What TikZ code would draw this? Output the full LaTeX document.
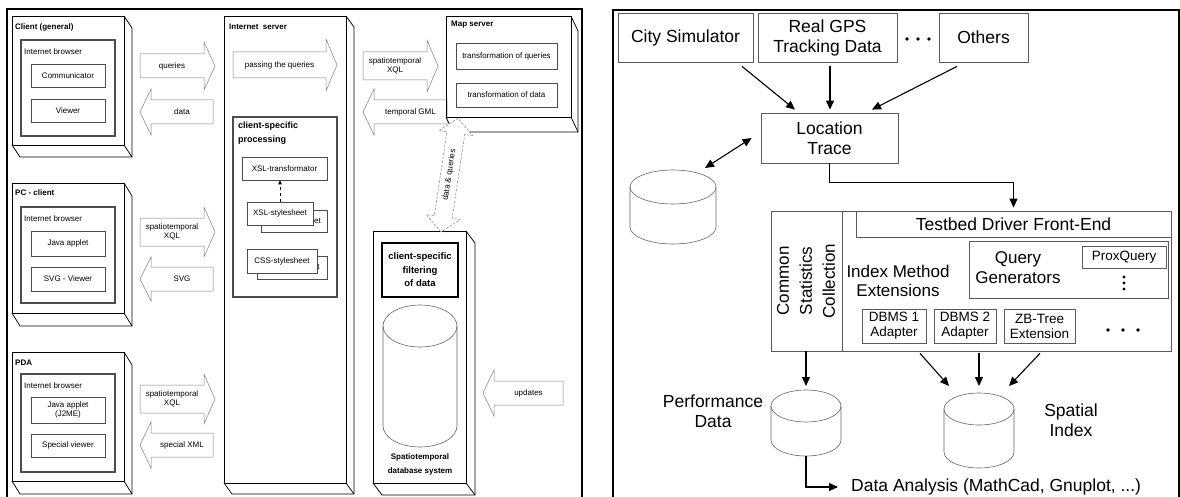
\documentclass[tikz,border=0pt]{standalone}
\usepackage{fontspec}
\setmainfont{Liberation Sans}
\usetikzlibrary{arrows.meta,calc}

% front face x1 y1 x2 y2, depth dx dy
\newcommand\boxthreed[6]{%
  \draw[tdbox] (#1,#2) rectangle (#3,#4);
  \draw[tdbox] (#3,#2) -- ({#3+#5},{#2+#6}) -- ({#3+#5},{#4+#6}) -- ({#1+#5},{#4+#6}) -- (#1,#4);
  \draw[tdbox] (#3,#4) -- ({#3+#5},{#4+#6});}
% block arrow pointing right: name, tail x, tip x, centre y, half shaft, half head, label
\newcommand\blkright[7]{%
  \draw[blk] (#2,{#4-#5}) -- ({#3-11},{#4-#5}) -- ({#3-11},{#4-#6}) -- (#3,#4) -- ({#3-11},{#4+#6}) -- ({#3-11},{#4+#5}) -- (#2,{#4+#5}) -- cycle;
  \node[sm,align=center] (#1) at ({(#2+#3-11)/2},#4) {#7};}
% block arrow pointing left: name, tip x, tail x, centre y, half shaft, half head, label
\newcommand\blkleft[7]{%
  \draw[blk] (#3,{#4-#5}) -- ({#2+11},{#4-#5}) -- ({#2+11},{#4-#6}) -- (#2,#4) -- ({#2+11},{#4+#6}) -- ({#2+11},{#4+#5}) -- (#3,{#4+#5}) -- cycle;
  \node[sm,align=center] (#1) at ({(#3+#2+11)/2},#4) {#7};}
% database drum: name, cx, top centre y, bottom centre y, rx, ry
\newcommand\drum[6]{%
  \draw[cyl] ({#2-#5},#3) -- ({#2-#5},#4) arc[start angle=180,end angle=360,x radius=#5pt,y radius=#6pt] -- ({#2+#5},#3);
  \draw[cyl] (#2,#3) ellipse[x radius=#5pt,y radius=#6pt];
  \coordinate (#1-top) at (#2,{#3-#6});
  \coordinate (#1-bot) at (#2,{#4+#6});}

\begin{document}
\begin{tikzpicture}[x=1pt,y=-1pt,
  frame/.style={line width=1.8pt},
  tdbox/.style={line width=0.75pt},
  ibox/.style={draw=black!70,line width=0.6pt,fill=white,inner sep=0pt,minimum width=74pt,minimum height=23pt,font=\fontsize{8}{9.5}\selectfont,align=center},
  brow/.style={draw=black!70,line width=1.3pt},
  blk/.style={draw=black!50,line width=0.5pt,fill=white},
  sm/.style={font=\fontsize{8}{9.5}\selectfont,inner sep=0pt},
  smb/.style={font=\bfseries\fontsize{8}{9.5}\selectfont,inner sep=0pt},
  rbox/.style={draw=black!65,line width=0.8pt,inner sep=0pt,align=center},
  big/.style={font=\fontsize{17.5}{20}\selectfont},
  mid/.style={font=\fontsize{13.5}{15}\selectfont},
  cyl/.style={draw=black!60,line width=0.6pt},
  arr/.style={-{Triangle[length=9pt,width=8pt]},line width=1.1pt},
  darr/.style={{Triangle[length=9pt,width=8pt]}-{Triangle[length=9pt,width=8pt]},line width=1.1pt},
]
\useasboundingbox (0,0) rectangle (1180,497);
\fill[white] (0,0) rectangle (1180,497);

% panel frames
\draw[frame] (7,497) -- (7,9) -- (582,9) -- (582,497);
\draw[frame] (613,497) -- (613,10) -- (1179,10) -- (1179,497);

% ---------- clients ----------
\boxthreed{12}{16}{124}{145}{8}{12}
\node[smb,anchor=west] (c1) at (15,27) {Client (general)};
\draw[brow] (21,40) rectangle (115,136);
\node[sm,anchor=west] (b1) at (24,52) {Internet browser};
\node[ibox] (comm) at (68,75.5) {Communicator};
\node[ibox] (view) at (68,111) {Viewer};

\boxthreed{12}{183}{124}{313}{8}{13}
\node[smb,anchor=west] (c2) at (15,193) {PC - client};
\draw[brow] (21,207) rectangle (115,303);
\node[sm,anchor=west] (b2) at (24,219) {Internet browser};
\node[ibox,minimum height=25pt] (java) at (68,243.5) {Java applet};
\node[ibox,minimum height=24pt] (svgv) at (68,279) {SVG - Viewer};

\boxthreed{12}{352}{124}{481}{8}{13}
\node[smb,anchor=west] (c3) at (15,363) {PDA};
\draw[brow] (21,374) rectangle (115,472);
\node[sm,anchor=west] (b3) at (24,386) {Internet browser};
\node[ibox,minimum height=26pt] (j2me) at (68,410) {Java applet\\(J2ME)};
\node[ibox] (spv) at (68,445.5) {Special viewer};

% client <-> server traffic
\blkright{q1}{140}{215}{66}{12}{24}{queries}
\blkleft{d1}{140}{213}{112}{12}{23}{data}
\blkright{q2}{140}{215}{232}{14}{25}{spatiotemporal\\XQL}
\blkleft{d2}{140}{213}{279}{12}{22}{SVG}
\blkright{q3}{140}{215}{399}{14}{25}{spatiotemporal\\XQL}
\blkleft{d3}{140}{213}{445}{12}{23}{special XML}

% ---------- internet server ----------
\boxthreed{224}{16}{346}{483}{8}{11}
\node[smb,anchor=west] (is) at (229,27) {Internet\ \ server};
\blkright{pq}{233}{337}{65}{13}{26}{passing the queries}
\draw[brow] (233,117) rectangle (337,297);
\node[font=\bfseries\fontsize{9}{14}\selectfont,anchor=north west,align=left,inner sep=0pt] (csp) at (238,122) {client-specific\\processing};
\node[ibox,minimum width=85pt,minimum height=23pt] (xslt) at (284.5,168.5) {XSL-transformator};
\node[ibox,minimum width=66pt,minimum height=22pt] (xslb) at (294,221) {XSL-stylesheet};
\node[ibox,minimum width=66pt,minimum height=23pt] (xslf) at (280,213.5) {XSL-stylesheet};
\draw[dashed,line width=0.6pt,-{Triangle[length=4pt,width=3.5pt]}] (xslf.north) -- (xslf.north |- xslt.south);
\node[ibox,minimum width=70pt,minimum height=23pt] (cssb) at (292,267.5) {CSS-stylesheet};
\node[ibox,minimum width=70pt,minimum height=24pt] (cssf) at (282,261) {CSS-stylesheet};

% server <-> map server traffic
\blkright{q4}{363}{438}{66}{14}{26}{spatiotemporal\\XQL}
\blkleft{d4}{363}{447}{112}{12}{23}{temporal GML}

% ---------- map server ----------
\boxthreed{446}{16}{571}{117}{7}{15}
\node[smb,anchor=west] (ms) at (451,25) {Map server};
\node[ibox,minimum width=101pt,minimum height=26pt] (tq) at (506.5,56) {transformation of queries};
\node[ibox,minimum width=101pt,minimum height=24pt] (td) at (506.5,95) {transformation of data};

% ---------- database system ----------
\boxthreed{373}{231}{466}{483}{9}{12}
\node[draw,line width=2.2pt,minimum width=76pt,minimum height=54pt,inner sep=0pt,align=center,font=\bfseries\fontsize{9.5}{13.5}\selectfont] (filt) at (420,270) {client-specific\\filtering\\of data};
\drum{dbc}{420}{326}{426}{37}{21}
\node[inner sep=0pt,align=center,font=\bfseries\fontsize{8}{14}\selectfont] (dbl) at (420,464) {Spatiotemporal\\database system};

% data & queries between map server and database
\begin{scope}[shift={(441,232)},rotate=81.5]
  \draw[blk,dash pattern=on 2.5pt off 1.5pt] (0,0) -- (15,-17) -- (15,-9) -- (100,-9) -- (100,-17) -- (115,0) -- (100,17) -- (100,9) -- (15,9) -- (15,17) -- cycle;
\end{scope}
\node[sm,rotate=81.5] (dq) at (449.5,175) {data \& queries};

\blkleft{up}{483}{563}{393}{12}{23}{updates}

% ---------- testbed architecture ----------
\node[rbox,big,minimum width=135pt,minimum height=49pt] (city) at (685.5,37.5) {City Simulator};
\node[rbox,big,minimum width=139pt,minimum height=49pt] (gps) at (827.5,37.5) {Real GPS\\Tracking Data};
\foreach \x in {907,918,929} \fill (\x,39) circle[radius=1.8pt];
\node[rbox,big,minimum width=89pt,minimum height=49pt] (oth) at (983.5,37.5) {Others};
\node[rbox,big,minimum width=137pt,minimum height=50pt] (loc) at (829.5,138) {Location\\Trace};

\draw[arr] ($(city.south)+(56.5,4)$) -- ($(loc.north)+(-34.5,-3)$);
\draw[arr] ($(gps.south)+(2.5,4)$) -- ($(loc.north)+(0.5,-3)$);
\draw[arr] ($(oth.south)+(-26.5,4)$) -- ($(loc.north)+(42.5,-3)$);

\drum{cA}{673}{187}{227}{43}{17}
\coordinate (cA-ne) at (705,168);
\draw[darr] ($(loc.west)+(-9,0)$) -- (cA-ne);

\node[rbox,minimum width=400pt,minimum height=140pt] (tb) at (971,281) {};
\draw[draw=black!65,line width=0.8pt] (842,211) -- (842,351);
\node[rbox,big,minimum width=315pt,minimum height=26pt] (fe) at (1013.5,224) {Testbed Driver Front-End};
\draw[arr] (loc.south) -- ++(0,19) -| ($(fe.north)+(0,-3)$);

\node[rotate=90,align=center,inner sep=0pt,font=\fontsize{17}{23}\selectfont] (csc) at (806,281) {Common\\Statistics\\Collection};
\node[align=center,inner sep=0pt,font=\fontsize{17}{19}\selectfont] (ime) at (898,281) {Index Method\\Extensions};
\node[rbox,minimum width=199pt,minimum height=57pt] (qg) at (1068.5,269.5) {};
\node[align=center,inner sep=0pt,font=\fontsize{17}{20}\selectfont] (qgl) at (1018,268) {Query\\Generators};
\node[rbox,mid,minimum width=84pt,minimum height=22pt] (prox) at (1124,257) {ProxQuery};
\foreach \y in {277,283,289} \fill (1124,\y) circle[radius=1.6pt];
\node[rbox,mid,minimum width=64pt,minimum height=34pt] (db1) at (894,326) {DBMS 1\\Adapter};
\node[rbox,mid,minimum width=62pt,minimum height=34pt] (db2) at (965,326) {DBMS 2\\Adapter};
\node[rbox,mid,minimum width=71pt,minimum height=34pt] (zb) at (1039.5,326) {ZB-Tree\\Extension};
\foreach \x in {1108,1123,1138} \fill (\x,330) circle[radius=1.8pt];

\drum{perf}{806}{406}{440}{35}{16}
\drum{sp}{979}{409}{452}{35}{16}
\draw[arr] (tb.south -| csc) -- ($(perf-top)+(0,-4)$);
\draw[arr] ($(tb.south)+(-51,2)$) -- ($(sp-top)+(-30,-7)$);
\draw[arr] ($(tb.south)+(8,2)$) -- ($(sp-top)+(0,-7)$);
\draw[arr] ($(tb.south)+(69,2)$) -- ($(sp-top)+(30,-7)$);
\node[big,align=center,inner sep=0pt] (perfl) at (713,411) {Performance\\Data};
\node[big,align=center,inner sep=0pt] (spl) at (1071,420) {Spatial\\Index};
\node[big,anchor=west,inner sep=0pt] (da) at (851,487) {Data Analysis (MathCad, Gnuplot, ...)};
\draw[arr] (perf-bot) |- ($(da.west)+(-13,0)$);
\end{tikzpicture}
\end{document}
